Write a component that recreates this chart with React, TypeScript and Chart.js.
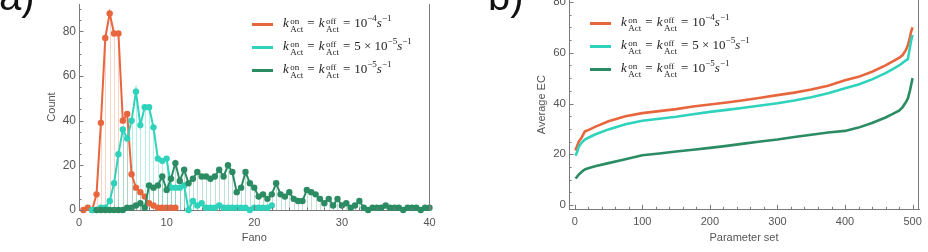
import React, { useEffect, useRef } from 'react';
import { Chart, registerables } from 'chart.js';
Chart.register(...registerables);

// ---------- Panel a) Fano histograms ----------
const fastFano = [0.5, 1, 1.5, 2, 2.5, 3, 3.5, 4, 4.5, 5, 5.5, 6, 6.5, 7, 7.5, 8, 8.5, 9, 9.5, 10, 10.5, 11];
const fastCount = [0, 1, 0, 7, 39, 77, 88, 79, 79, 40, 43, 16, 10, 8, 6, 3, 2, 1, 1, 1, 1, 1];

const midFano = [1.5, 2, 2.5, 3, 3.5, 4, 4.5, 5, 5.5, 6, 6.5, 7, 7.5, 8, 8.5, 9, 9.5, 10, 10.5, 11,
  11.5, 12, 12.5, 13, 13.5, 14, 14.5, 15, 15.5, 16, 16.5, 17, 17.5, 18, 18.5, 19, 19.5, 20, 20.5, 21, 21.5, 22];
const midCount = [0, 0, 1, 1, 4, 12, 25, 36, 32, 40, 53, 38, 46, 46, 37, 23, 22, 23, 10, 10,
  10, 11, 0, 4, 2, 3, 1, 1, 1, 2, 1, 1, 1, 1, 1, 1, 0, 1, 1, 1, 1, 2];

const slowFano = [2, 2.5, 3, 3.5, 4, 4.5, 5, 5.5, 6, 6.5, 7, 7.5, 8, 8.5, 9, 9.5, 10, 10.5, 11, 11.5,
  12, 12.5, 13, 13.5, 14, 14.5, 15, 15.5, 16, 16.5, 17, 17.5, 18, 18.5, 19, 19.5, 20, 20.5, 21, 21.5,
  22, 22.5, 23, 23.5, 24, 24.5, 25, 25.5, 26, 26.5, 27, 27.5, 28, 28.5, 29, 29.5, 30, 30.5, 31, 31.5,
  32, 32.5, 33, 33.5, 34, 34.5, 35, 35.5, 36, 36.5, 37, 37.5, 38, 38.5, 39, 39.5, 40];
const slowCount = [0, 0, 0, 0, 0, 0, 0, 1, 1, 2, 3, 1, 11, 10, 11, 15, 9, 14, 21, 13,
  18, 12, 14, 17, 15, 15, 14, 15, 18, 15, 20, 17, 8, 10, 17, 12, 10, 6, 7, 5,
  7, 12, 7, 6, 8, 5, 4, 4, 9, 8, 7, 5, 3, 5, 2, 5, 2, 3, 1, 2,
  4, 1, 0, 1, 1, 1, 2, 1, 1, 1, 0, 1, 1, 1, 0, 1, 1];

const fanoTicks = [0, 10, 20, 30, 40];
const countTicks = [0, 20, 40, 60, 80];

// ---------- Panel b) Average EC ----------
const paramSets = [1, 3, 6, 10, 15, 20, 30, 50, 75, 100, 125, 150, 175, 200, 225, 250, 275, 300, 325, 350,
  375, 400, 420, 440, 460, 470, 480, 485, 490, 493, 496, 498, 500];
const ecFast = [21.5, 23, 25, 26.5, 29, 29.5, 30.8, 33, 35, 36.2, 37, 37.8, 38.8, 39.6, 40.4, 41.3, 42.3, 43.3, 44.3, 45.5,
  47, 49.2, 50.5, 52.5, 55, 56.5, 58, 59, 61, 63, 66, 68.5, 70];
const ecMid = [19.5, 20.5, 23, 24.5, 25.8, 26.5, 27.8, 29.8, 31.8, 33.2, 34, 34.8, 35.8, 36.7, 37.5, 38.3, 39.2, 40.1, 41.2, 42.5,
  44, 46, 47.5, 49.5, 52, 53.5, 55, 56, 57, 57.5, 62, 65, 67];
const ecSlow = [10.5, 11, 12, 13, 14, 14.5, 15.3, 16.5, 18, 19.6, 20.3, 21.1, 21.8, 22.5, 23.3, 24.2, 25, 25.8, 26.8, 27.7,
  28.6, 29.2, 30.5, 32.3, 34.5, 35.8, 37.2, 38.5, 40.5, 42, 45, 47.5, 50];

const paramTicks = [0, 100, 200, 300, 400, 500];
const ecTicks = [0, 20, 40, 60, 80];

const C_FAST = '#E8663D';
const C_MID = '#2FD3BC';
const C_SLOW = '#2B8C63';
const AXIS = '#7a7a7a';
const TEXT = '#555555';

const dropLines = {
  id: 'dropLines',
  beforeDatasetsDraw(chart: any) {
    const ys = chart.scales.y;
    const base = ys.getPixelForValue(0);
    const ctx = chart.ctx;
    ctx.save();
    ctx.lineWidth = 1;
    chart.data.datasets.forEach((ds: any, i: number) => {
      if (!ds.stemColor) return;
      const meta = chart.getDatasetMeta(i);
      ctx.strokeStyle = ds.stemColor;
      meta.data.forEach((pt: any) => {
        if (pt.skip) return;
        const x = Math.round(pt.x) + 0.5;
        ctx.beginPath();
        ctx.moveTo(x, pt.y);
        ctx.lineTo(x, base);
        ctx.stroke();
      });
    });
    ctx.restore();
  },
};

const frameTicks = {
  id: 'frameTicks',
  afterDraw(chart: any, _args: any, o: any) {
    const { ctx, chartArea, scales } = chart;
    const xs = scales.x, ys = scales.y;
    ctx.save();
    ctx.strokeStyle = AXIS;
    ctx.lineWidth = 1;
    const r = Math.round(chartArea.right) - 0.5;
    ctx.beginPath();
    ctx.moveTo(r, chartArea.top);
    ctx.lineTo(r, chartArea.bottom);
    ctx.stroke();
    const bottom = chartArea.bottom;
    const left = chartArea.left;
    for (let v = o.x0; v <= o.x1 + 1e-9; v += o.xMinor) {
      const px = Math.round(xs.getPixelForValue(v)) + 0.5;
      const major = Math.abs(v / o.xMajor - Math.round(v / o.xMajor)) < 1e-6;
      ctx.beginPath();
      ctx.moveTo(px, bottom);
      ctx.lineTo(px, bottom - (major ? 4.5 : 2.5));
      ctx.stroke();
    }
    for (let v = o.y0; v <= o.y1 + 1e-9; v += o.yMinor) {
      const py = Math.round(ys.getPixelForValue(v)) + 0.5;
      const major = Math.abs(v / o.yMajor - Math.round(v / o.yMajor)) < 1e-6;
      ctx.beginPath();
      ctx.moveTo(left, py);
      ctx.lineTo(left + (major ? 4.5 : 2.5), py);
      ctx.stroke();
    }
    ctx.restore();
  },
};

function fixed(size: number) {
  return (s: any) => {
    if (s.isHorizontal()) s.height = size; else s.width = size;
    s.paddingTop = 0; s.paddingBottom = 0; s.paddingLeft = 0; s.paddingRight = 0;
  };
}

const SANS = "'Liberation Sans', Arial, sans-serif";

function axisCommon(ticks: number[], size: number, title: string, min: number, max: number, isY: boolean, tickSize: number) {
  return {
    type: 'linear',
    min, max,
    afterFit: fixed(size),
    afterBuildTicks: (s: any) => { s.ticks = ticks.map((v) => ({ value: v })); },
    grid: { display: false, drawTicks: false },
    border: { display: true, color: AXIS, width: 1 },
    ticks: { color: TEXT, font: { family: SANS, size: tickSize }, padding: isY ? 3 : 6, autoSkip: false, maxRotation: 0 },
    title: { display: true, text: title, color: TEXT, font: { family: SANS, size: 11 }, padding: isY ? { top: 5, bottom: 0 } : { top: 0, bottom: 0 } },
  };
}

function pts(xs: number[], ys: number[]) {
  return xs.map((x, i) => ({ x, y: ys[i] }));
}

function FanoChart() {
  const ref = useRef<HTMLCanvasElement>(null);
  useEffect(() => {
    const mk = (label: string, xs: number[], ys: number[], color: string, stem: string, order: number) => ({
      label, data: pts(xs, ys), borderColor: color, backgroundColor: color, pointBackgroundColor: color,
      pointBorderWidth: 0, pointRadius: 3.2, borderWidth: 2, tension: 0, clip: false, order, stemColor: stem,
    });
    const chart = new Chart(ref.current!, {
      type: 'line',
      data: {
        datasets: [
          mk('fast', fastFano, fastCount, C_FAST, 'rgba(232,102,61,0.28)', 2),
          mk('mid', midFano, midCount, C_MID, 'rgba(47,211,188,0.35)', 1),
          mk('slow', slowFano, slowCount, C_SLOW, 'rgba(43,140,99,0.28)', 0),
        ] as any,
      },
      options: {
        animation: false, responsive: false, devicePixelRatio: 1,
        layout: { padding: { left: 40, right: 30.5, top: 0, bottom: 7 } },
        plugins: { legend: { display: false }, tooltip: { enabled: false }, frameTicks: { x0: 0, x1: 40, xMinor: 2, xMajor: 10, y0: 0, y1: 90, yMinor: 5, yMajor: 20 } } as any,
        scales: {
          x: axisCommon(fanoTicks, 35, 'Fano', 0, 40, false, 11),
          y: axisCommon(countTicks, 39, 'Count', 0, 92.2, true, 12),
        } as any,
      },
      plugins: [dropLines, frameTicks],
    });
    return () => chart.destroy();
  }, []);
  return <canvas ref={ref} width={460} height={252} style={{ position: 'absolute', left: 0, top: 0, width: 460, height: 252 }} />;
}

function ECChart() {
  const ref = useRef<HTMLCanvasElement>(null);
  useEffect(() => {
    const mk = (label: string, ys: number[], color: string, order: number) => ({
      label, data: pts(paramSets, ys), borderColor: color, backgroundColor: color,
      pointRadius: 0, borderWidth: 2.6, tension: 0, order,
    });
    const chart = new Chart(ref.current!, {
      type: 'line',
      data: {
        datasets: [
          mk('fast', ecFast, C_FAST, 2),
          mk('mid', ecMid, C_MID, 1),
          mk('slow', ecSlow, C_SLOW, 0),
        ] as any,
      },
      options: {
        animation: false, responsive: false, devicePixelRatio: 1,
        layout: { padding: { left: 70, right: 9, top: 0, bottom: 7 } },
        plugins: { legend: { display: false }, tooltip: { enabled: false }, frameTicks: { x0: 0, x1: 500, xMinor: 20, xMajor: 100, y0: 0, y1: 80, yMinor: 5, yMajor: 20 } } as any,
        scales: {
          x: axisCommon(paramTicks, 35.7, 'Parameter set', -8.5, 509.5, false, 11),
          y: axisCommon(ecTicks, 39, 'Average EC', -1.7, 80.8, true, 11.5),
        } as any,
      },
      plugins: [frameTicks],
    });
    return () => chart.destroy();
  }, []);
  return <canvas ref={ref} width={468} height={252} style={{ position: 'absolute', left: 460, top: 0, width: 468, height: 252 }} />;
}

const mathFont = "'Liberation Serif', 'DejaVu Serif', serif";

function K({ sup }: { sup: string }) {
  return (
    <span style={{ whiteSpace: 'nowrap' }}>
      <i>k</i>
      <span style={{ display: 'inline-flex', flexDirection: 'column', verticalAlign: 'middle', fontSize: 9, lineHeight: '8.5px', marginLeft: 1.5, position: 'relative', top: 1 }}>
        <span>{sup}</span>
        <span>Act</span>
      </span>
    </span>
  );
}

const Eq = () => <span style={{ margin: '0 4px' }}>=</span>;
const Sup = ({ t }: { t: string }) => <sup style={{ fontSize: 9, verticalAlign: 'top', lineHeight: '9px', position: 'relative', top: -1 }}>{t}</sup>;

function Rate({ pre, exp }: { pre: string; exp: string }) {
  return (
    <span>
      <K sup="on" />
      <Eq />
      <K sup="off" />
      <Eq />
      {pre}10<Sup t={exp} /><i>s</i><Sup t="−1" />
    </span>
  );
}

function Legend({ left, rows }: { left: number; rows: number[] }) {
  const items = [
    { c: C_FAST, pre: '', exp: '−4' },
    { c: C_MID, pre: '5 × ', exp: '−5' },
    { c: C_SLOW, pre: '', exp: '−5' },
  ];
  return (
    <>
      {items.map((it, i) => (
        <div key={i} style={{ position: 'absolute', left, top: rows[i] - 10, height: 20, display: 'flex', alignItems: 'center', fontFamily: mathFont, fontSize: 13, color: '#222', whiteSpace: 'nowrap' }}>
          <span style={{ display: 'inline-block', width: 21, height: 3, background: it.c, marginRight: 10 }} />
          <Rate pre={it.pre} exp={it.exp} />
        </div>
      ))}
    </>
  );
}

export default function App() {
  return (
    <div style={{ position: 'absolute', left: 0, top: 0, width: 928, height: 252, background: '#fff', overflow: 'hidden' }}>
      <FanoChart />
      <ECChart />
      <Legend left={252} rows={[24, 47, 70]} />
      <Legend left={590} rows={[23, 46, 69]} />
      <span style={{ position: 'absolute', left: -1, top: -24, fontSize: 40, lineHeight: '40px', fontFamily: SANS, color: '#111' }}>a)</span>
      <span style={{ position: 'absolute', left: 488, top: -24, fontSize: 40, lineHeight: '40px', fontFamily: SANS, color: '#111' }}>b)</span>
    </div>
  );
}
